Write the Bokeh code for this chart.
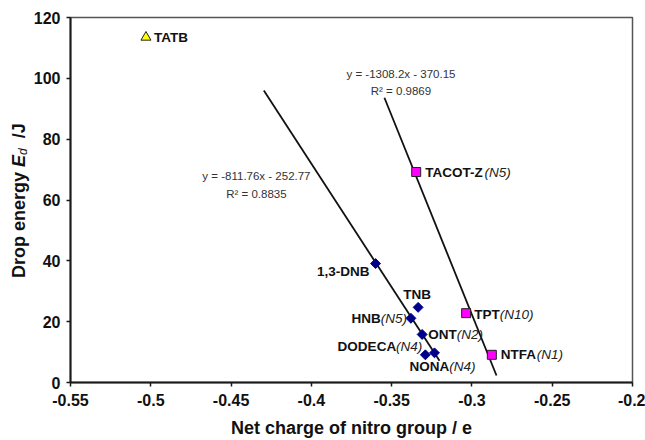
import math
from bokeh.plotting import figure
from bokeh.layouts import row
from bokeh.models import ColumnDataSource, Label, FixedTicker, Range1d
from bokeh.core.properties import value
from bokeh.embed import file_html
from bokeh.resources import INLINE

# ---------------- data ----------------
nitro_names = ["1,3-DNB", "TNB", "HNB", "ONT", "DODECA", "NONA"]
nitro_tags = ["", "", "(N5)", "(N2)", "(N4)", "(N4)"]
nitro_charge = [-0.360, -0.3335, -0.338, -0.331, -0.329, -0.3233]
nitro_energy = [39.1, 24.7, 21.1, 15.8, 9.1, 9.75]

hetero_names = ["TACOT-Z", "TPT", "NTFA"]
hetero_tags = ["(N5)", "(N10)", "(N1)"]
hetero_charge = [-0.3347, -0.3036, -0.2876]
hetero_energy = [69.2, 22.8, 9.1]

tatb_names = ["TATB"]
tatb_tags = [""]
tatb_charge = [-0.503]
tatb_energy = [113.5]

fit1_slope, fit1_intercept, fit1_r2 = -811.76, -252.77, "0.8835"
fit1_x = [-0.4296, -0.3202]
fit2_slope, fit2_intercept, fit2_r2 = -1308.2, -370.15, "0.9869"
fit2_x = [-0.3545, -0.2847]

x_ticks = [-0.55, -0.5, -0.45, -0.4, -0.35, -0.3, -0.25, -0.2]
x_tick_labels = ["-0.55", "-0.5", "-0.45", "-0.4", "-0.35", "-0.3", "-0.25", "-0.2"]
y_ticks = [0, 20, 40, 60, 80, 100, 120]
y_tick_labels = ["0", "20", "40", "60", "80", "100", "120"]

# ---------------- styling helpers ----------------
FONT = "Liberation Sans"
LBL_FS = 13.5
BOLD_W = {"A": 722, "B": 722, "C": 722, "D": 722, "E": 667, "F": 611, "G": 778, "H": 722,
          "I": 278, "J": 556, "K": 722, "L": 611, "M": 833, "N": 722, "O": 778, "P": 667,
          "Q": 778, "R": 722, "S": 667, "T": 611, "U": 722, "V": 667, "W": 944, "X": 667,
          "Y": 667, "Z": 611, "-": 333, ",": 278, " ": 278, "(": 333, ")": 333, "/": 278,
          "r": 389, "o": 611, "p": 611, "e": 556, "n": 611, "g": 611, "y": 556}
REG_W = {"N": 722, "(": 333, ")": 333, " ": 278, "/": 278, "d": 556}


def text_width(s, table, fs):
    return sum(table.get(c, 556) for c in s) * fs / 1000.0


# label placement (align, dx, dy) in pixels relative to the marker
placement = {
    "TATB": ("left", 8, 0),
    "TACOT-Z": ("left", 9, 0),
    "1,3-DNB": ("right", -6, 8),
    "TNB": ("center", -1, -13),
    "HNB": ("right", -4, 0),
    "ONT": ("left", 6, 0),
    "DODECA": ("right", -3, -8),
    "NONA": ("left", -25, 14),
    "TPT": ("left", 8, 1),
    "NTFA": ("left", 9, 0),
}

W, H = 645, 440
LW = 30                       # width of the strip holding the y-axis title
BL, BR, BT, BB = 70 - LW, 13, 17, 56
p = figure(width=W - LW, height=H, output_backend="svg", toolbar_location=None,
           x_range=Range1d(-0.55, -0.2), y_range=Range1d(0, 120),
           min_border_left=BL, min_border_right=BR, min_border_top=BT, min_border_bottom=BB)
p.background_fill_color = "white"
p.border_fill_color = "white"
p.xgrid.visible = False
p.ygrid.visible = False
p.outline_line_color = "#555555"
p.outline_line_width = 1.5

for ax in (p.xaxis[0], p.yaxis[0]):
    ax.axis_line_color = "#1a1a1a"
    ax.axis_line_width = 2
    ax.major_tick_line_color = "#1a1a1a"
    ax.major_tick_line_width = 1.5
    ax.major_tick_out = 4
    ax.major_tick_in = 0
    ax.minor_tick_out = 0
    ax.minor_tick_in = 0
    ax.major_label_text_font = FONT
    ax.major_label_text_font_style = "bold"
    ax.major_label_text_font_size = "16px"
    ax.major_label_text_color = "#111111"

p.xaxis.ticker = FixedTicker(ticks=x_ticks)
p.xaxis.major_label_overrides = {t: s for t, s in zip(x_ticks, x_tick_labels)}
p.yaxis.ticker = FixedTicker(ticks=y_ticks)
p.yaxis.major_label_overrides = {t: s for t, s in zip(y_ticks, y_tick_labels)}
p.xaxis.major_label_standoff = 7
p.yaxis.major_label_standoff = 6

p.xaxis.axis_label = "Net charge of nitro group / e"
p.xaxis.axis_label_text_font = FONT
p.xaxis.axis_label_text_font_style = "bold"
p.xaxis.axis_label_text_font_size = "18px"
p.xaxis.axis_label_text_color = "#111111"
p.xaxis.axis_label_standoff = 9

# fit lines
for xs, m, b in ((fit1_x, fit1_slope, fit1_intercept), (fit2_x, fit2_slope, fit2_intercept)):
    p.line(x=xs, y=[m * x + b for x in xs], line_color="#111111", line_width=1.8)

# markers
p.scatter(x=nitro_charge, y=nitro_energy, marker="square", angle=math.pi / 4, size=7,
          fill_color="#00008B", line_color="#00008B", line_width=1)
p.scatter(x=hetero_charge, y=hetero_energy, marker="square", size=9,
          fill_color="#FF00FF", line_color="#222222", line_width=1)
p.scatter(x=tatb_charge, y=tatb_energy, marker="triangle", size=10,
          fill_color="#FFFF00", line_color="#222222", line_width=1)

# point labels (bold name + italic tag)
bold = dict(x=[], y=[], text=[], xo=[], yo=[])
ital = dict(x=[], y=[], text=[], xo=[], yo=[])
for names, tags, xs, ys in ((nitro_names, nitro_tags, nitro_charge, nitro_energy),
                            (hetero_names, hetero_tags, hetero_charge, hetero_energy),
                            (tatb_names, tatb_tags, tatb_charge, tatb_energy)):
    for n, t, x, y in zip(names, tags, xs, ys):
        align, dx, dy = placement[n]
        bw = text_width(n, BOLD_W, LBL_FS)
        iw = text_width(t, REG_W, LBL_FS)
        if align == "left":
            left = dx
        elif align == "right":
            left = dx - bw - iw
        else:
            left = dx - (bw + iw) / 2
        bold["x"].append(x); bold["y"].append(y); bold["text"].append(n)
        bold["xo"].append(left); bold["yo"].append(dy)
        if t:
            ital["x"].append(x); ital["y"].append(y); ital["text"].append(t)
            ital["xo"].append(left + bw); ital["yo"].append(dy)

p.text(x="x", y="y", text="text", x_offset="xo", y_offset="yo", source=ColumnDataSource(bold),
       text_font=value(FONT), text_font_style="bold", text_font_size=f"{LBL_FS}px",
       text_color="#111111", text_align="left", text_baseline="middle")
p.text(x="x", y="y", text="text", x_offset="xo", y_offset="yo", source=ColumnDataSource(ital),
       text_font=value(FONT), text_font_style="italic", text_font_size=f"{LBL_FS}px",
       text_color="#222222", text_align="left", text_baseline="middle")

# regression equations
eq_pos = [(-0.4342, 67.8), (-0.3442, 101.5)]
for (ex, ey), m, b, r2 in zip(eq_pos, (fit1_slope, fit2_slope), (fit1_intercept, fit2_intercept),
                              (fit1_r2, fit2_r2)):
    sign = "-" if b < 0 else "+"
    p.add_layout(Label(x=ex, y=ey, text=f"y = {m}x {sign} {abs(b)}", text_align="center",
                       text_baseline="middle", text_font=FONT, text_font_size="11.5px",
                       text_color="#333333"))
    p.add_layout(Label(x=ex, y=ey, y_offset=-17.5, text=f"R\u00b2 = {r2}", text_align="center",
                       text_baseline="middle", text_font=FONT, text_font_size="11.5px",
                       text_color="#333333"))

# ---------------- y-axis title strip (rich text: bold + italic subscript) ----------------
t = figure(width=LW, height=H, output_backend="svg", toolbar_location=None, title=None,
           x_range=Range1d(0, LW), y_range=Range1d(0, H),
           x_axis_type=None, y_axis_type=None,
           min_border_left=0, min_border_right=0, min_border_top=0, min_border_bottom=0)
t.xgrid.visible = False
t.ygrid.visible = False
t.outline_line_color = None
t.background_fill_color = "white"
t.border_fill_color = "white"

YFS = 18
xc = 18            # centre line of the rotated title
ys = H - 282 - 32  # where the title starts (from bottom, empirically aligned)
w1 = text_width("Drop energy ", BOLD_W, YFS)
wE = 667 * YFS / 1000.0
wd = text_width("d", REG_W, 12)
wsp = text_width("  ", BOLD_W, YFS)
pieces = [
    ("Drop energy", "bold", YFS, 0, 0),
    ("E", "bold italic", YFS, 0, w1),
    ("d", "italic", 12, 4, w1 + wE),
    ("/J", "bold", YFS, 0, w1 + wE + wd + wsp),
]
for txt, style, fs, ox, oy in pieces:
    t.text(x=[xc], y=[ys], x_offset=ox, y_offset=-oy, text=[txt], angle=math.pi / 2,
           text_font=value(FONT), text_font_style=style, text_font_size=f"{fs}px",
           text_color="#111111", text_align="left", text_baseline="middle")

layout = row(t, p, spacing=0)
open("out.html", "w").write(file_html(layout, INLINE))
